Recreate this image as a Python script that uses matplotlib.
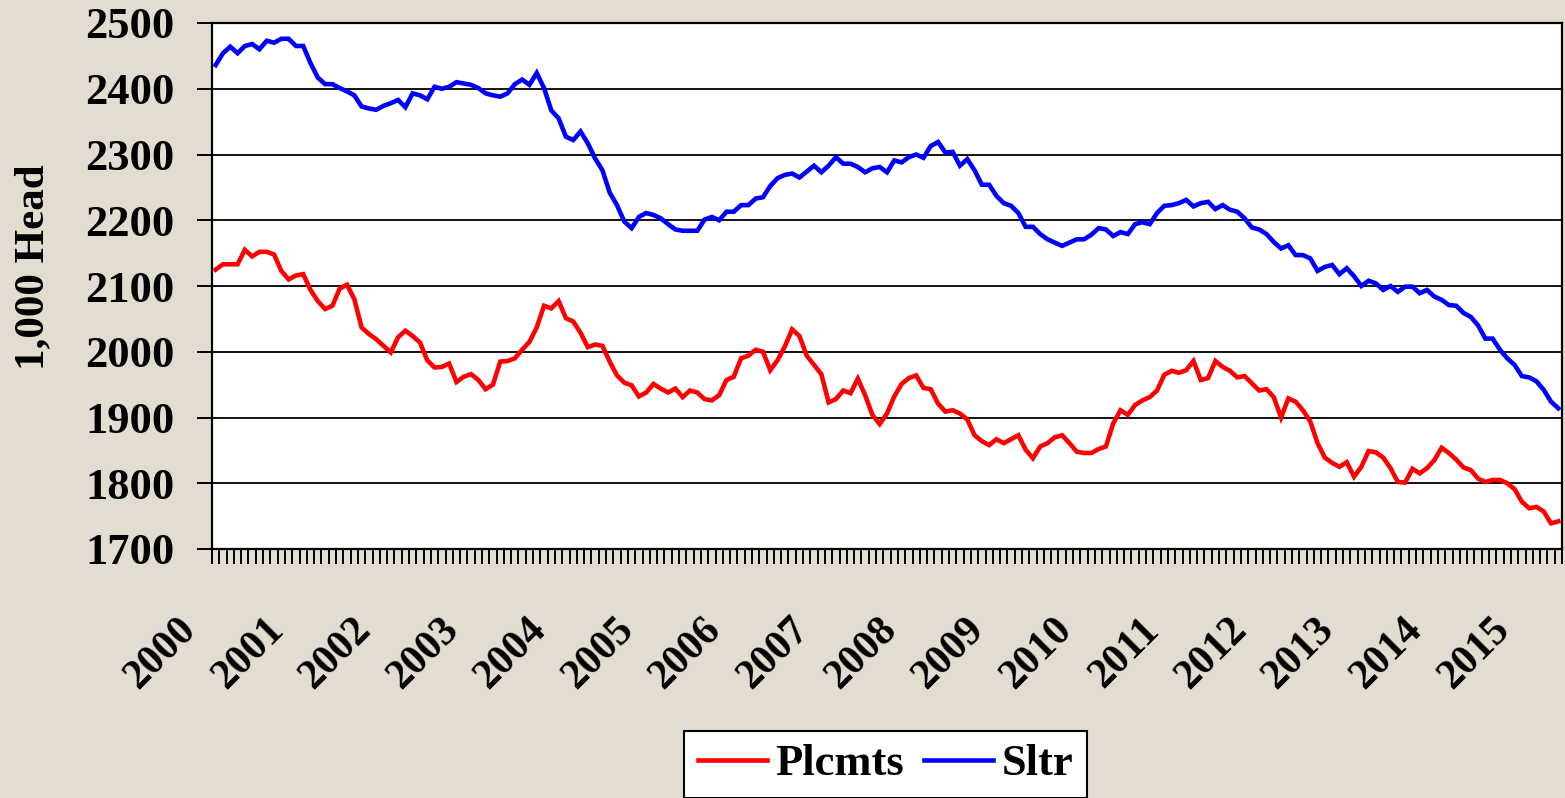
import numpy as np
import matplotlib
matplotlib.use("Agg")
import matplotlib.pyplot as plt
from matplotlib.transforms import ScaledTranslation

# monthly values, Jan 2000 onward (1,000 head)
plcmts = [
    2125, 2133, 2133, 2133, 2155, 2145, 2152, 2152, 2148, 2123,
    2110, 2116, 2118, 2094, 2077, 2065, 2070, 2096, 2102, 2080,
    2037, 2027, 2019, 2009, 1999, 2022, 2032, 2024, 2014, 1987,
    1976, 1977, 1982, 1954, 1962, 1966, 1957, 1943, 1950, 1985,
    1986, 1990, 2003, 2015, 2037, 2070, 2066, 2077, 2051, 2046,
    2029, 2007, 2011, 2009, 1985, 1964, 1953, 1949, 1932, 1938,
    1951, 1944,
    1938, 1944, 1931, 1941, 1938, 1928, 1926, 1934, 1957, 1962,
    1990, 1994, 2003, 2000, 1972, 1987, 2008, 2034, 2024, 1994,
    1980, 1966, 1923, 1928, 1941, 1937, 1959, 1934, 1904, 1890,
    1906, 1932, 1951, 1960, 1964, 1945, 1943, 1921, 1909, 1911,
    1906, 1897, 1873, 1864, 1858, 1867, 1861, 1867, 1873, 1851,
    1838, 1856, 1861, 1870, 1873, 1861, 1848, 1846, 1846, 1852,
    1856, 1891, 1911, 1904, 1919, 1926, 1931, 1941, 1965, 1971,
    1968, 1972, 1986, 1957, 1960, 1986, 1977, 1971, 1961, 1963,
    1952, 1941, 1943, 1931, 1900, 1929, 1924, 1911, 1894, 1861,
    1839, 1831, 1825, 1832, 1810, 1825, 1849, 1847, 1839, 1823,
    1802, 1801, 1822, 1815, 1823, 1835, 1854, 1846, 1836, 1824,
    1820, 1807, 1802, 1805, 1805, 1800, 1791, 1772, 1762, 1764,
    1757, 1739, 1742,
]
sltr = [
    2436, 2454, 2464, 2454, 2465, 2468, 2460, 2473, 2470, 2476,
    2476, 2465, 2465, 2439, 2417, 2407, 2407, 2401, 2396, 2390,
    2373, 2370, 2368, 2374, 2378, 2383, 2372, 2393, 2390, 2384,
    2403, 2400, 2403, 2410, 2408, 2406, 2401, 2393, 2390, 2388,
    2393, 2407, 2414, 2406, 2424, 2401, 2367, 2355, 2327, 2322,
    2335, 2317, 2294, 2276, 2242, 2223, 2198, 2188, 2205, 2211,
    2208,
    2203, 2194, 2186, 2184, 2184, 2184, 2201, 2205, 2200, 2213,
    2213, 2223, 2223, 2233, 2235, 2252, 2264, 2269, 2271, 2265,
    2274, 2283, 2273, 2283, 2296, 2286, 2286, 2281, 2273, 2279,
    2281, 2273, 2291, 2288, 2296, 2300, 2295, 2313, 2319, 2303,
    2304, 2283, 2293, 2276, 2254, 2254, 2237, 2226, 2222, 2211,
    2190, 2190, 2179, 2171, 2166, 2161, 2166, 2171, 2171, 2178,
    2188,
    2186, 2176, 2182, 2179, 2194, 2197, 2194, 2211, 2222, 2223,
    2226, 2231, 2221, 2226, 2228, 2217, 2223, 2216, 2213, 2203,
    2189, 2186, 2179, 2167, 2157, 2162, 2147, 2147, 2142, 2123,
    2129, 2132, 2118, 2127, 2115, 2100, 2108, 2104, 2094, 2100,
    2091, 2099, 2099, 2089, 2094, 2084, 2079, 2071, 2070, 2059,
    2053,
    2040, 2020, 2020, 2003, 1990, 1980, 1963, 1961, 1955, 1942,
    1924, 1914,
]
years = [str(y) for y in range(2000, 2016)]

bg = '#e3dcd0'
font = 'Liberation Serif'
plt.rcParams['font.family'] = [font, 'DejaVu Serif']
plt.rcParams['font.weight'] = 'bold'

fig = plt.figure(figsize=(15.65, 7.98), dpi=100, facecolor=bg)
W, H = 1565, 798
ax = fig.add_axes([212 / W, 1 - 549 / H, 1350 / W, 526 / H])
ax.set_facecolor('white')

n = len(plcmts)
x = np.arange(n)
ax.plot(x, plcmts, color='#ff0000', lw=3.3, label='Plcmts', solid_joinstyle='miter')
ax.plot(x, sltr, color='#0000ff', lw=3.3, label='Sltr', solid_joinstyle='miter')

ax.set_xlim(-0.5, n - 0.5)
ax.set_ylim(1700, 2500)
ax.set_yticks(range(1700, 2501, 100))
ax.yaxis.grid(True, color='black', lw=1.3)
ax.set_axisbelow(True)

# year labels on every 12th month, month tick marks between categories
ax.set_xticks(np.arange(0, n, 12)[:len(years)])
ax.set_xticklabels(years)
ax.set_xticks(np.arange(n + 1) - 0.5, minor=True)
ax.tick_params(axis='x', which='major', length=0, pad=44.5, labelsize=30)
ax.tick_params(axis='x', which='minor', length=10.8, width=1.4, direction='out')
ax.tick_params(axis='y', length=10.8, width=1.4, pad=16, labelsize=32)
off = ScaledTranslation(-39 / 100, 0, fig.dpi_scale_trans)
for lbl in ax.get_xticklabels():
    lbl.set_rotation(45)
    lbl.set_ha('right')
    lbl.set_va('top')
    lbl.set_rotation_mode('anchor')
    lbl.set_transform(lbl.get_transform() + off)
    lbl.set_fontweight('bold')
for lbl in ax.get_yticklabels():
    lbl.set_fontweight('bold')

for s in ax.spines.values():
    s.set_linewidth(1.6)
    s.set_color('black')

fig.text(33 / W, 1 - 267 / H, '1,000 Head', rotation=90, ha='center', va='center',
         fontsize=31, fontweight='bold')

leg = fig.legend(loc='upper center', bbox_to_anchor=(0.566, 1 - 731 / H), ncol=2,
                 frameon=True, fancybox=False, edgecolor='black', facecolor='white',
                 framealpha=1, prop={'family': font, 'weight': 'bold', 'size': 32},
                 handlelength=1.55, handletextpad=0.2, columnspacing=0.45,
                 borderpad=0.3, borderaxespad=0)
leg.get_frame().set_linewidth(1.5)

fig.savefig('out.png', dpi=100, facecolor=bg)
